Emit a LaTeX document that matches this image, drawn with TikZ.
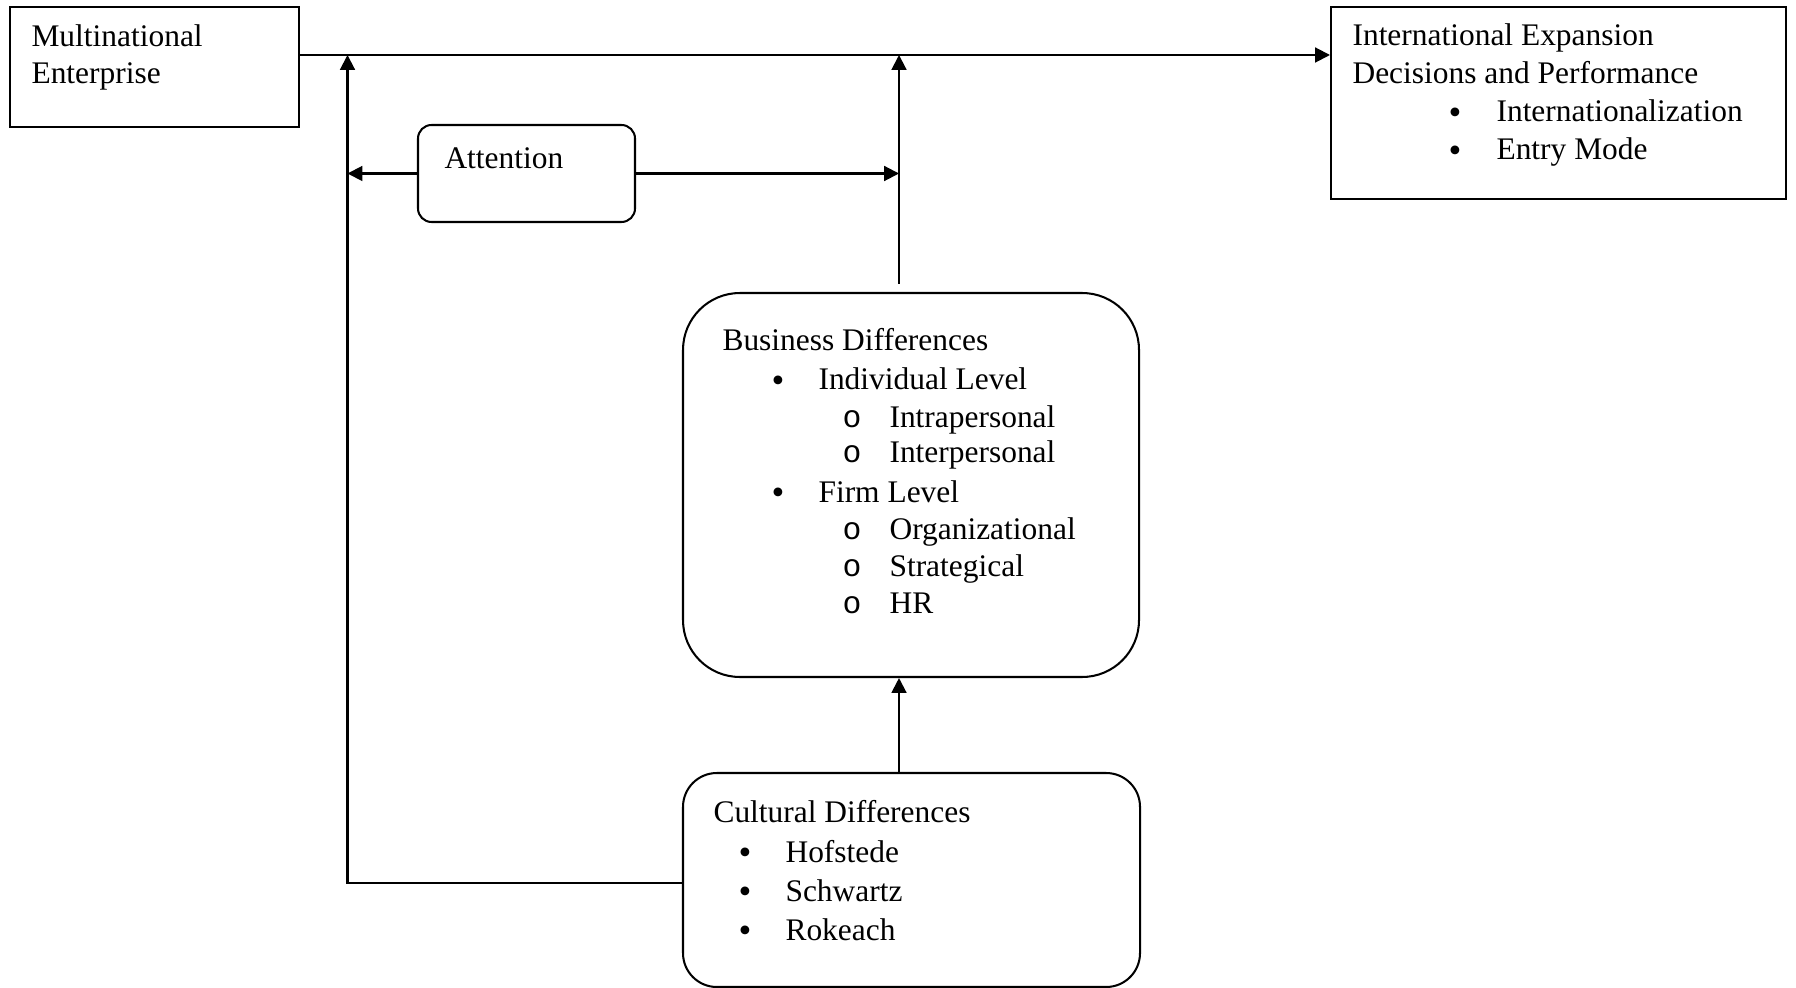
\documentclass[tikz,border=0pt]{standalone}
\usepackage{fontspec}
\setmainfont{Liberation Serif}
\newfontfamily\circfont{Liberation Mono}
\usetikzlibrary{arrows.meta}
\usetikzlibrary{fit}

\begin{document}
\begin{tikzpicture}[x=0.369pt,y=-0.369pt,
    every node/.style={inner sep=0pt},
    box/.style={draw,line width=0.75pt},
    rbox/.style={box,rounded corners=#1},
    txt/.style={anchor=base west,font=\fontsize{11.6}{13.8}\selectfont},
    bul/.style={anchor=base west,font=\fontsize{13.5}{13.5}\selectfont,yshift=-0.9pt},
    sub/.style={anchor=base west,font=\fontsize{11.6}{13.8}\circfont},
    link/.style={line width=0.75pt},
    arr/.style={link,-{Triangle[length=5.5pt,width=5.5pt]}}]

    \useasboundingbox (0,0) rectangle (1796,988);

    \node[box,fit={(10,7) (299,127)}] (mne) {};
    \node[box,fit={(1331,7) (1786,199)}] (ied) {};
    \node[rbox=5pt,fit={(418,125) (635,222)}] (att) {};
    \node[rbox=21pt,fit={(683,293) (1139,677)}] (bus) {};
    \node[rbox=12.5pt,fit={(683,773) (1140,987)}] (cult) {};

    \foreach \y/\t [count=\i] in {47/Multinational,84/Enterprise}
        \node[txt] (mne-\i) at (31,\y) {\t};

    \foreach \y/\t [count=\i] in {46/International Expansion,84/Decisions and Performance}
        \node[txt] (ied-\i) at (1352,\y) {\t};
    \foreach \y/\t [count=\i] in {122/Internationalization,160/Entry Mode} {
        \node[bul] (ied-b\i) at (1448,\y) {\textbullet};
        \node[txt] (ied-i\i) at (1496,\y) {\t};
    }

    \node[txt] (att-t) at (444,169) {Attention};

    \node[txt] (bus-t) at (722,351) {Business Differences};
    \foreach \y/\t [count=\i] in {390/Individual Level,502/Firm Level} {
        \node[bul] (bus-b\i) at (771,\y) {\textbullet};
        \node[txt] (bus-i\i) at (818,\y) {\t};
    }
    \foreach \y/\t [count=\i] in {427/Intrapersonal,463/Interpersonal,539/Organizational,576/Strategical,613/HR} {
        \node[sub] (bus-o\i) at (842,\y) {o};
        \node[txt] (bus-s\i) at (889,\y) {\t};
    }

    \node[txt] (cult-t) at (713,822) {Cultural Differences};
    \foreach \y/\t [count=\i] in {862/Hofstede,901/Schwartz,940/Rokeach} {
        \node[bul] (cult-b\i) at (738,\y) {\textbullet};
        \node[txt] (cult-i\i) at (785,\y) {\t};
    }

    \coordinate (lx) at (347.5,0);
    \coordinate (mx) at (899,0);
    \coordinate (ty) at (0,55);
    \coordinate (cy) at (0,883);
    \coordinate (mtop) at (899,284);

    \draw[arr] (mne.east |- ty) -- (ied.west |- ty);
    \draw[arr] (cult.west |- cy) -| (lx |- ty);
    \draw[arr] (att.west) -- (att.west -| lx);
    \draw[arr] (att.east) -- (att.east -| mx);
    \draw[arr] (mtop) -- (mtop |- ty);
    \draw[arr] (mx |- cult.north) -- (mx |- bus.south);
\end{tikzpicture}
\end{document}
